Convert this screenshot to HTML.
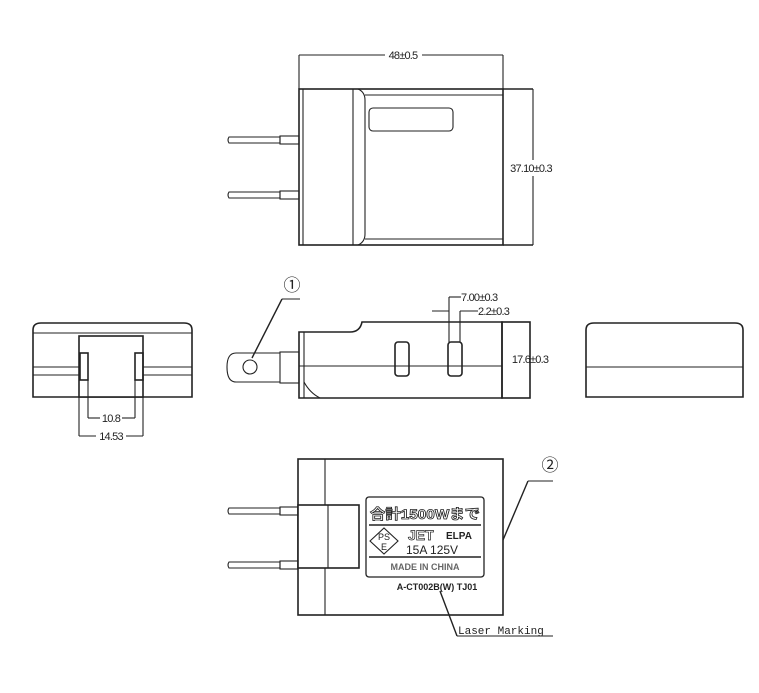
<!DOCTYPE html>
<html><head><meta charset="utf-8"><style>
html,body{margin:0;padding:0;background:#fff;width:759px;height:693px;overflow:hidden}
svg{display:block}
text{font-family:"Liberation Sans","Noto Sans CJK JP",sans-serif;fill:#222}
.d{font-family:"Liberation Sans Narrow","Liberation Sans",sans-serif;font-size:11px;letter-spacing:-0.8px}
</style></head><body>
<svg width="759" height="693" viewBox="0 0 759 693" xmlns="http://www.w3.org/2000/svg" fill="none" stroke="#222" stroke-width="1.1">
<!-- TOP VIEW -->
<line x1="299" y1="55" x2="299" y2="89"/><line x1="503" y1="55" x2="503" y2="89"/>
<line x1="299" y1="55" x2="385" y2="55"/><line x1="422" y1="55" x2="503" y2="55"/>
<text x="403" y="59" class="d" text-anchor="middle" stroke="none">48±0.5</text>
<rect x="299" y="89" width="204" height="156" stroke-width="1.6"/>
<line x1="503" y1="89" x2="533" y2="89" stroke-width="1.6"/><line x1="503" y1="245" x2="533" y2="245" stroke-width="1.6"/>
<line x1="533" y1="89" x2="533" y2="160"/><line x1="533" y1="176" x2="533" y2="245"/>
<text x="531" y="172" class="d" text-anchor="middle" stroke="none">37.10±0.3</text>
<line x1="353" y1="89" x2="353" y2="245"/>
<path d="M358 89 Q365 92 365 100 V234 Q365 242 358 245"/>
<line x1="365" y1="95" x2="503" y2="95"/><line x1="365" y1="239" x2="503" y2="239"/>
<line x1="303" y1="89" x2="303" y2="245"/>
<rect x="369" y="108" width="84" height="23" rx="4"/>
<path d="M229 137 H280 V143 H229 Q227 140 229 137 Z"/><rect x="280" y="136" width="19" height="8"/>
<path d="M229 192 H280 V198 H229 Q227 195 229 192 Z"/><rect x="280" y="191" width="19" height="8"/>
<!-- LEFT VIEW -->
<path d="M33 397 V330 Q33 323 41 323 H184 Q192 323 192 330 V397 Z" stroke-width="1.6"/>
<line x1="33" y1="333" x2="192" y2="333"/>
<line x1="33" y1="367" x2="192" y2="367"/><line x1="33" y1="375" x2="192" y2="375"/>
<rect x="79" y="336" width="64" height="61" fill="#fff" stroke-width="1.6"/>
<rect x="80" y="353" width="8" height="27" stroke-width="1.6"/><rect x="135" y="353" width="8" height="27" stroke-width="1.6"/>
<line x1="88" y1="380" x2="88" y2="418"/><line x1="135" y1="380" x2="135" y2="418"/>
<line x1="79" y1="397" x2="79" y2="436"/><line x1="143" y1="397" x2="143" y2="436"/>
<line x1="88" y1="418" x2="100" y2="418"/><line x1="122" y1="418" x2="135" y2="418"/>
<line x1="79" y1="436" x2="96" y2="436"/><line x1="126" y1="436" x2="143" y2="436"/>
<text x="111" y="422" class="d" text-anchor="middle" stroke="none">10.8</text>
<text x="111" y="440" class="d" text-anchor="middle" stroke="none">14.53</text>
<!-- SIDE VIEW -->
<text x="292" y="291" font-size="17" text-anchor="middle" stroke="none">①</text>
<line x1="282" y1="299" x2="300" y2="299"/><line x1="282" y1="299" x2="252" y2="358" stroke-width="1.4"/>
<path d="M280 353 H236 Q227 353 227 367 Q227 382 236 382 H280" />
<rect x="280" y="352" width="19" height="31"/>
<circle cx="250" cy="367" r="7"/>
<path d="M299 332 H350 Q360 332 362 322 H502 V398 H299 Z" stroke-width="1.6"/>
<line x1="299" y1="366" x2="502" y2="366"/>
<line x1="304" y1="332" x2="304" y2="398"/>
<path d="M304 382 Q310 393 320 398"/>
<rect x="502" y="322" width="28" height="76" stroke-width="1.6"/>
<text x="530" y="363" class="d" text-anchor="middle" stroke="none">17.6±0.3</text>
<rect x="395" y="342" width="14" height="34" rx="3" stroke-width="1.6"/>
<rect x="448" y="342" width="14" height="34" rx="3" stroke-width="1.6"/>
<line x1="449" y1="297" x2="449" y2="342"/><line x1="449" y1="297" x2="461" y2="297"/>
<line x1="460" y1="311" x2="460" y2="342"/><line x1="460" y1="311" x2="478" y2="311"/>
<line x1="432" y1="311" x2="449" y2="311"/>
<text x="461" y="301" class="d" stroke="none">7.00±0.3</text>
<text x="478" y="315" class="d" stroke="none">2.2±0.3</text>
<!-- RIGHT VIEW -->
<path d="M586 397 V330 Q586 323 594 323 H735 Q743 323 743 330 V397 Z" stroke-width="1.6"/>
<line x1="586" y1="367" x2="743" y2="367"/>
<!-- BOTTOM VIEW -->
<rect x="298" y="459" width="205" height="156" stroke-width="1.6"/>
<line x1="325" y1="459" x2="325" y2="615"/>
<rect x="298" y="505" width="61" height="63" fill="#fff" stroke-width="1.6"/>
<line x1="328" y1="505" x2="328" y2="568"/>
<path d="M229 508 H280 V514 H229 Q227 511 229 508 Z"/><rect x="280" y="507" width="18" height="8"/>
<path d="M229 562 H280 V568 H229 Q227 565 229 562 Z"/><rect x="280" y="561" width="18" height="8"/>
<rect x="366" y="497" width="118" height="80" rx="3" stroke-width="1.3"/>
<text x="425" y="519" font-size="14" font-weight="bold" text-anchor="middle" textLength="110" lengthAdjust="spacingAndGlyphs" style="fill:#fff;stroke:#222;stroke-width:0.8">合計1500Wまで</text>
<line x1="369" y1="525" x2="481" y2="525" stroke-width="1.6"/>
<path d="M370 541 L384 528 L398 541 L384 554 Z"/>
<text x="384" y="540" font-size="9" text-anchor="middle" stroke="none">PS</text>
<text x="384" y="550" font-size="9" text-anchor="middle" stroke="none">E</text>
<text x="408" y="540" font-size="14" font-weight="bold" stroke="#222" stroke-width="0.7" style="fill:#fff">JET</text>
<text x="446" y="539" font-size="10" font-weight="bold" stroke="none">ELPA</text>
<text x="406" y="554" font-size="12" stroke="none">15A  125V</text>
<line x1="369" y1="557" x2="481" y2="557" stroke-width="1.6"/>
<text x="425" y="570" font-size="9" font-weight="bold" text-anchor="middle" stroke="none" style="fill:#666">MADE IN CHINA</text>
<text x="437" y="590" font-size="9" font-weight="bold" text-anchor="middle" stroke="none">A-CT002B(W) TJ01</text>
<text x="550" y="471" font-size="17" text-anchor="middle" stroke="none">②</text>
<line x1="528" y1="481" x2="553" y2="481"/><line x1="528" y1="481" x2="503" y2="540" stroke-width="1.4"/>
<line x1="440" y1="591" x2="457" y2="636" stroke-width="1.4"/>
<text x="458" y="634" font-size="11" stroke="none" style="font-family:'Liberation Mono',monospace">Laser Marking</text>
<line x1="457" y1="636" x2="553" y2="636"/>
</svg>
</body></html>
